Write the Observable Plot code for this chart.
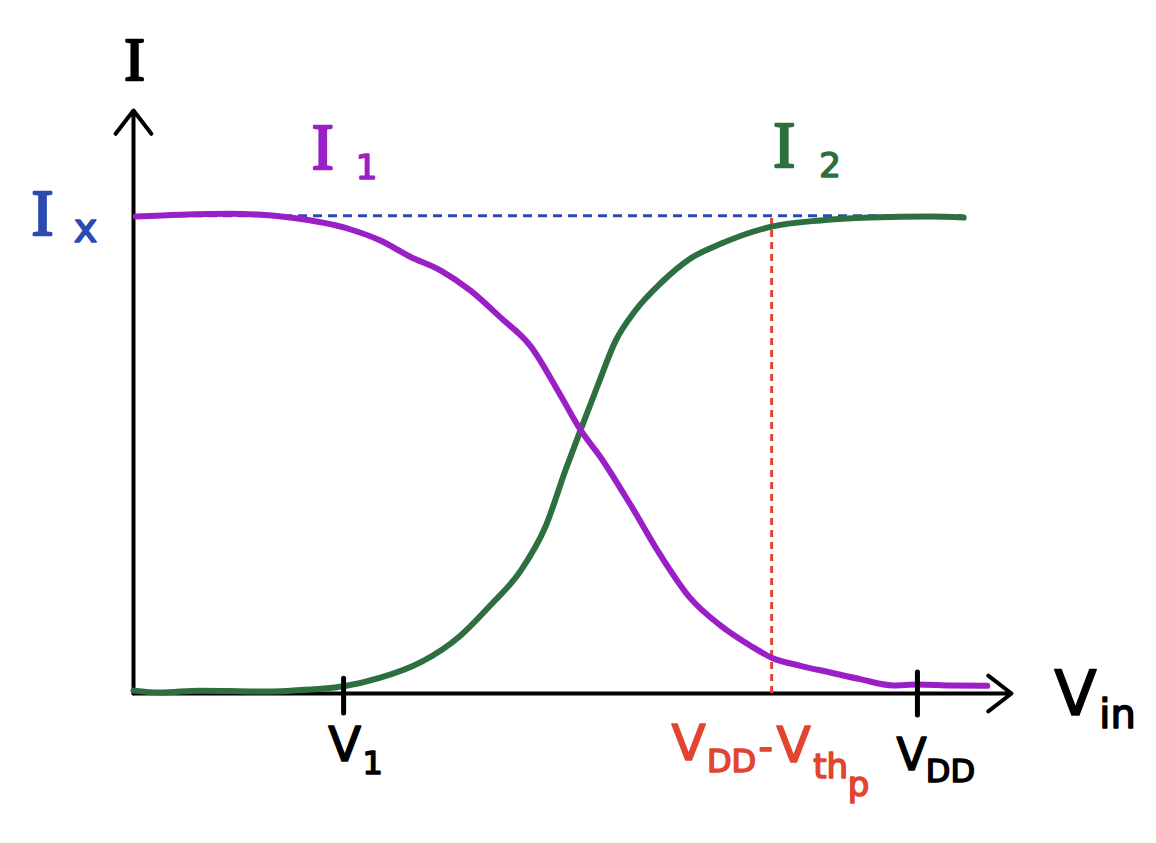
<!DOCTYPE html>
<html>
<head>
<meta charset="utf-8">
<script src="https://cdn.jsdelivr.net/npm/d3@7"></script>
<script src="https://cdn.jsdelivr.net/npm/@observablehq/plot@0.6"></script>
<style>
  html, body { margin: 0; padding: 0; background: #ffffff; }
  #chart svg { display: block; }
</style>
</head>
<body>
<div id="chart"></div>
<script>
// ---- Data (Vin as a fraction of VDD, current as a fraction of Ix) ----
const I1_vin = [0.003, 0.06, 0.124, 0.2, 0.277, 0.315, 0.353, 0.392, 0.43, 0.468, 0.506, 0.545, 0.57, 0.596, 0.634, 0.672, 0.71, 0.749, 0.787, 0.814, 0.851, 0.889, 0.927, 0.969, 1.0, 1.042, 1.089];
const I1_cur = [0.998, 1.002, 1.004, 0.996, 0.971, 0.948, 0.914, 0.885, 0.843, 0.787, 0.728, 0.623, 0.552, 0.494, 0.395, 0.29, 0.2, 0.142, 0.1, 0.075, 0.058, 0.044, 0.03, 0.017, 0.019, 0.017, 0.016];

const I2_vin = [0.0, 0.034, 0.085, 0.162, 0.2, 0.268, 0.315, 0.366, 0.417, 0.455, 0.494, 0.526, 0.551, 0.57, 0.592, 0.615, 0.64, 0.672, 0.71, 0.749, 0.814, 0.876, 0.94, 1.017, 1.059];
const I2_cur = [0.006, 0.002, 0.006, 0.004, 0.006, 0.015, 0.033, 0.065, 0.121, 0.184, 0.257, 0.351, 0.467, 0.55, 0.644, 0.738, 0.801, 0.858, 0.91, 0.941, 0.977, 0.99, 0.996, 0.998, 0.996];

const Ix = 1.0;
const V1 = 0.268;
const VDD = 1.0;
const VDD_minus_Vthp = 0.814;
const IxLineEnd = 1.059;
const xMax = 1.12;   // end of Vin axis arrow
const yMax = 1.22;   // end of I axis arrow

const I1 = I1_vin.map((v, i) => ({vin: v, cur: I1_cur[i]}));
const I2 = I2_vin.map((v, i) => ({vin: v, cur: I2_cur[i]}));

const PURPLE = "#9a1fc6";
const GREEN = "#2e6f3f";
const BLUE = "#2b4bb0";
const RED = "#e2452f";
const INK = "#000000";
const SANS = "DejaVu Sans";
const SERIF = "Liberation Serif";

const lab = (text, x, y, dx, dy, fill, size, font, sw = 1.6) =>
  Plot.text([{x, y, text}], {x: "x", y: "y", text: "text", dx, dy, fill, stroke: fill, strokeWidth: sw, fontSize: size, fontFamily: font, textAnchor: "middle", lineAnchor: "middle"});

const chart = Plot.plot({
  width: 1156,
  height: 843,
  marginLeft: 133,
  marginRight: 145,
  marginTop: 110,
  marginBottom: 150,
  x: {domain: [0, xMax], axis: null},
  y: {domain: [0, yMax], axis: null},
  style: {background: "#ffffff"},
  marks: [
    // axes with open arrowheads
    Plot.arrow([{x1: 0, y1: 0, x2: 0, y2: yMax}], {x1: "x1", y1: "y1", x2: "x2", y2: "y2", stroke: INK, strokeWidth: 4, headLength: 11, headAngle: 75}),
    Plot.arrow([{x1: 0, y1: 0, x2: xMax, y2: 0}], {x1: "x1", y1: "y1", x2: "x2", y2: "y2", stroke: INK, strokeWidth: 4, headLength: 11, headAngle: 75}),
    // Ix dashed level
    Plot.ruleY([Ix], {x1: 0, x2: IxLineEnd, stroke: BLUE, strokeWidth: 3, strokeDasharray: "9,6"}),
    // VDD - Vthp dashed marker
    Plot.ruleX([VDD_minus_Vthp], {y1: 0, y2: Ix, stroke: RED, strokeWidth: 3, strokeDasharray: "7,5"}),
    // curves
    Plot.line(I2, {x: "vin", y: "cur", stroke: GREEN, strokeWidth: 6, curve: "monotone-x", strokeLinecap: "round"}),
    Plot.line(I1, {x: "vin", y: "cur", stroke: PURPLE, strokeWidth: 6, curve: "monotone-x", strokeLinecap: "round"}),
    // ticks
    Plot.ruleX([V1], {y1: -0.042, y2: 0.031, stroke: INK, strokeWidth: 5, strokeLinecap: "round"}),
    Plot.ruleX([VDD], {y1: -0.046, y2: 0.044, stroke: INK, strokeWidth: 5, strokeLinecap: "round"}),
    // labels
    lab("I", 0, yMax, 1, -50, INK, 62, SERIF, 2.5),
    lab("I", 0, Ix, -91, -2, BLUE, 66, SERIF, 2.5),
    lab("x", 0, Ix, -48, 14, BLUE, 40, SANS),
    lab("I", 0.24, Ix, 1, -68, PURPLE, 66, SERIF, 2.5),
    lab("1", 0.24, Ix, 45, -48, PURPLE, 34, SANS),
    lab("I", 0.83, Ix, 0, -70, GREEN, 66, SERIF, 2.5),
    lab("2", 0.83, Ix, 46, -50, GREEN, 34, SANS),
    lab("V", V1, 0, 1, 52, INK, 48, SANS),
    lab("1", V1, 0, 29, 70, INK, 32, SANS),
    lab("V", VDD_minus_Vthp, 0, -83, 50, RED, 50, SANS),
    lab("DD", VDD_minus_Vthp, 0, -40, 68, RED, 32, SANS),
    lab("-", VDD_minus_Vthp, 0, -6, 55, RED, 40, SANS),
    lab("V", VDD_minus_Vthp, 0, 22, 52, RED, 50, SANS),
    lab("th", VDD_minus_Vthp, 0, 59, 74, RED, 34, SANS),
    lab("p", VDD_minus_Vthp, 0, 87, 92, RED, 34, SANS),
    lab("V", VDD, 0, -6, 62, INK, 44, SANS),
    lab("DD", VDD, 0, 33, 78, INK, 32, SANS),
    lab("V", xMax, 0, 64, 2, INK, 62, SANS),
    lab("in", xMax, 0, 106, 22, INK, 40, SANS)
  ]
});
document.getElementById("chart").appendChild(chart);
</script>
</body>
</html>
